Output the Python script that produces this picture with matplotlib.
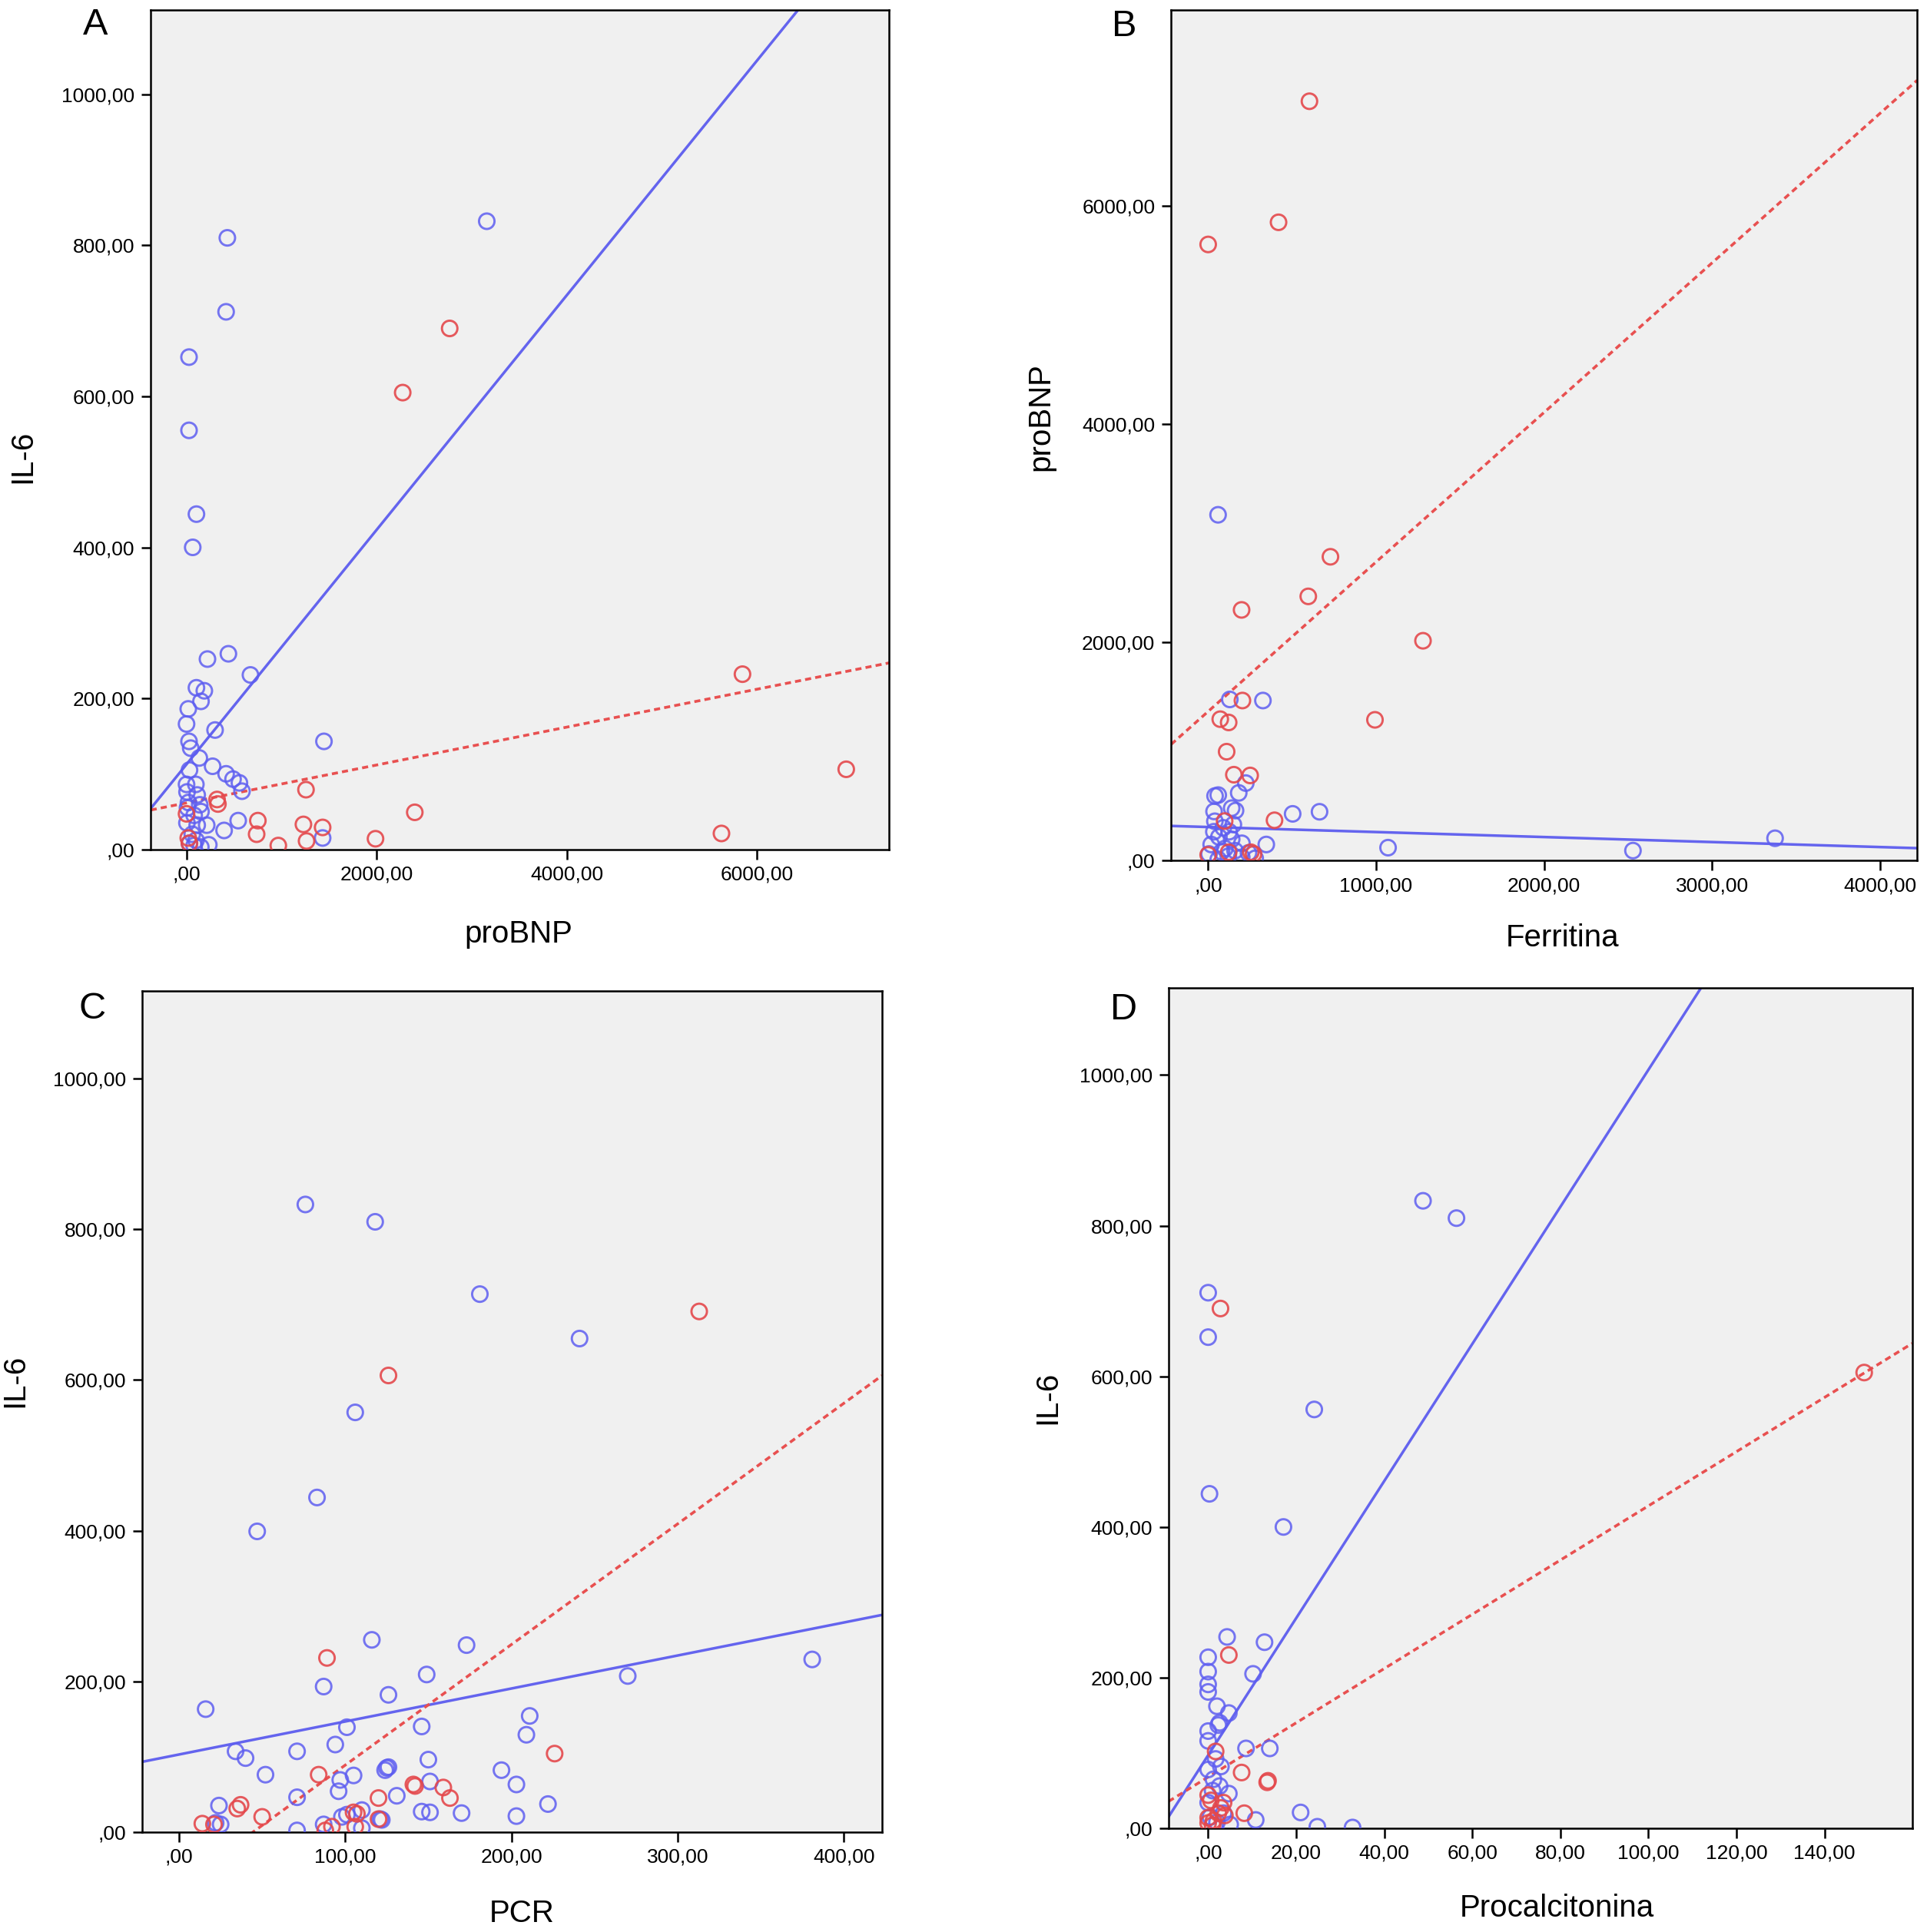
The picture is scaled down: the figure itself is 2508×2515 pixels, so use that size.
import matplotlib
matplotlib.use('Agg')
import matplotlib.pyplot as plt
import numpy as np

plt.rcParams.update({
    'font.family': ['Liberation Sans', 'DejaVu Sans'],
    'font.size': 19,
    'xtick.labelsize': 19,
    'ytick.labelsize': 19,
    'axes.labelsize': 29,
    'axes.linewidth': 1.8,
    'xtick.major.size': 9,
    'ytick.major.size': 9,
    'xtick.major.width': 1.8,
    'ytick.major.width': 1.8,
})

BLUE = '#5e5ef0'
RED = '#e4484c'
BLUE_LINE = '#6464ee'
RED_LINE = '#e85050'

# ---- panel A: proBNP vs IL-6 ----
a_blue_x = [429, 416, 26, 26, 104, 65, 3157, 440, 220, 672, 104, 187, 152, 18, 0, 300, 26, 44, 1445,
            134, 274, 31, 416, 489, 556, 583, 0, 5, 98, 112, 139, 152, 4, 112, 212, 543, 395, 1431,
            234, 31, 80, 10, 80, 60, 20, 100, 150]
a_blue_y = [810, 712, 652, 555, 444, 400, 832, 259, 252, 231, 214, 210, 196, 186, 166, 158, 143, 134, 143,
            121, 110, 105, 100, 93, 88, 77, 86, 76, 86, 72, 59, 50, 35, 32, 32, 38, 25, 15,
            6, 8, 5, 55, 45, 20, 62, 12, 3]
a_red_x = [321, 330, 0, 18, 30, 750, 737, 965, 1256, 1229, 1431, 1262, 1987, 2400, 2273, 2767, 5846, 6937, 5625]
a_red_y = [66, 60, 47, 15, 8, 38, 20, 5, 79, 33, 29, 11, 14, 49, 605, 690, 232, 106, 21]
a_blue_fit = (112.6, 0.1554)   # intercept, slope
a_red_fit = (61.5, 0.0251)

# ---- panel B: Ferritina vs proBNP ----
b_blue_x = [59, 129, 326, 224, 182, 41, 60, 163, 140, 35, 503, 663, 40, 34, 64, 125, 140, 18, 201, 346,
            1071, 5, 80, 120, 160, 200, 240, 280, 60, 100, 2529, 3375, 90, 150]
b_blue_y = [3170, 1477, 1467, 710, 620, 592, 600, 458, 480, 450, 428, 447, 360, 264, 216, 264, 194, 147, 158, 147,
            118, 60, 80, 40, 90, 30, 70, 20, 10, 110, 91, 204, 300, 330]
b_red_x = [603, 0, 419, 728, 596, 199, 1279, 993, 204, 72, 122, 110, 153, 250, 395, 98, 0, 122, 254, 270]
b_red_y = [6962, 5649, 5852, 2785, 2422, 2298, 2015, 1290, 1467, 1296, 1266, 998, 787, 780, 369, 362, 52, 76, 76, 60]
b_blue_fit = (307, -0.0459)
b_red_fit = (1367, 1.371)

# ---- panel C: PCR vs IL-6 ----
c_blue_x = [76, 118, 181, 241, 106, 83, 47, 381, 116, 173, 149, 87, 126, 16, 211, 209, 101, 146, 94, 270,
            34, 40, 71, 52, 150, 125, 124, 126, 97, 105, 96, 71, 151, 131, 194, 203, 222, 203, 170, 146,
            151, 24, 25, 22, 98, 101, 110, 121, 122, 87, 110, 71]
c_blue_y = [833, 810, 714, 655, 557, 444, 399, 229, 255, 248, 209, 193, 182, 163, 154, 129, 139, 140, 116, 207,
            107, 98, 107, 76, 96, 85, 82, 86, 69, 75, 54, 46, 67, 48, 82, 63, 37, 21, 25, 27,
            26, 35, 10, 12, 20, 23, 29, 17, 16, 10, 5, 2]
c_red_x = [89, 226, 84, 141, 142, 159, 163, 120, 35, 37, 50, 14, 21, 105, 107, 120, 92, 88, 106, 126, 313]
c_red_y = [231, 104, 76, 63, 61, 59, 45, 45, 31, 36, 20, 11, 10, 26, 24, 17, 7, 2, 7, 606, 691]
c_blue_fit = (102.8, 0.438)
c_red_fit = (-71.4, 1.601)

# ---- panel D: Procalcitonina vs IL-6 ----
d_blue_x = [48.8, 56.4, 0, 0, 24.1, 0.3, 17.1, 4.3, 12.8, 0, 0, 0, 0, 10.2, 2, 4.7, 2.6, 2.3, 0, 0,
            8.6, 14, 1.7, 2.9, 0, 1.2, 2.6, 4.7, 0, 3.5, 5, 10.8, 21, 24.8, 32.8, 1, 0.5, 2]
d_blue_y = [833, 810, 711, 652, 556, 444, 400, 254, 247, 227, 208, 191, 181, 205, 162, 153, 140, 137, 129, 116,
            106, 106, 92, 82, 78, 65, 56, 46, 34, 20, 5, 11, 21, 2, 1, 50, 15, 8]
d_red_x = [149, 2.8, 4.7, 1.7, 7.6, 13.4, 13.6, 8.2, 0, 0.6, 2.9, 3.5, 0, 1.2, 0, 2.3, 3.8, 1]
d_red_y = [605, 690, 230, 102, 74, 61, 63, 20, 44, 37, 27, 34, 14, 10, 7, 20, 17, 4]
d_blue_fit = (97, 9.1)
d_red_fit = (68, 3.6)

panels = [
    # letter, rect, xlim, ylim, xticks, yticks, xlabel, ylabel, data, label positions
    dict(letter='A', rect=[0.0782, 0.5604, 0.3833, 0.4345], xlim=(-377, 7390), ylim=(0, 1112),
         xticks=[0, 2000, 4000, 6000], yticks=[0, 200, 400, 600, 800, 1000],
         xlabel='proBNP', ylabel='IL-6',
         blue=(a_blue_x, a_blue_y), red=(a_red_x, a_red_y), bfit=a_blue_fit, rfit=a_red_fit,
         xl=(0.498, -0.101), yl=(-0.174, 0.468), lt=(-0.075, 0.982)),
    dict(letter='B', rect=[0.6077, 0.5546, 0.3872, 0.4403], xlim=(-221, 4221), ylim=(0, 7800),
         xticks=[0, 1000, 2000, 3000, 4000], yticks=[0, 2000, 4000, 6000],
         xlabel='Ferritina', ylabel='proBNP',
         blue=(b_blue_x, b_blue_y), red=(b_red_x, b_red_y), bfit=b_blue_fit, rfit=b_red_fit,
         xl=(0.525, -0.091), yl=(-0.175, 0.522), lt=(-0.063, 0.98)),
    dict(letter='C', rect=[0.0737, 0.0518, 0.3840, 0.4351], xlim=(-22.3, 423), ylim=(0, 1116),
         xticks=[0, 100, 200, 300, 400], yticks=[0, 200, 400, 600, 800, 1000],
         xlabel='PCR', ylabel='IL-6',
         blue=(c_blue_x, c_blue_y), red=(c_red_x, c_red_y), bfit=c_blue_fit, rfit=c_red_fit,
         xl=(0.513, -0.097), yl=(-0.172, 0.537), lt=(-0.067, 0.979)),
    dict(letter='D', rect=[0.6064, 0.0537, 0.3859, 0.4351], xlim=(-9, 159.9), ylim=(0, 1116),
         xticks=[0, 20, 40, 60, 80, 100, 120, 140], yticks=[0, 200, 400, 600, 800, 1000],
         xlabel='Procalcitonina', ylabel='IL-6',
         blue=(d_blue_x, d_blue_y), red=(d_red_x, d_red_y), bfit=d_blue_fit, rfit=d_red_fit,
         xl=(0.522, -0.095), yl=(-0.163, 0.512), lt=(-0.06, 0.974)),
]


def fmt(v):
    # SPSS style: comma decimal, zero shown as ",00"
    if v == 0:
        return ',00'
    return f'{v:.2f}'.replace('.', ',')


fig = plt.figure(figsize=(25.08, 25.15), dpi=100)

for p in panels:
    ax = fig.add_axes(p['rect'])
    ax.set_facecolor('#f0f0f0')
    ax.set_xlim(*p['xlim'])
    ax.set_ylim(*p['ylim'])

    # regression lines
    xs = np.array(p['xlim'])
    ax.plot(xs, p['bfit'][0] + p['bfit'][1] * xs, color=BLUE_LINE, lw=2.5, zorder=2)
    ax.plot(xs, p['rfit'][0] + p['rfit'][1] * xs, color=RED_LINE, lw=2.6,
            linestyle=(0, (2.2, 1.5)), zorder=2)

    # points
    ax.scatter(*p['blue'], s=210, facecolors='none', edgecolors=BLUE, linewidths=2.1, alpha=0.85, zorder=3)
    ax.scatter(*p['red'], s=210, facecolors='none', edgecolors=RED, linewidths=2.1, alpha=0.9, zorder=3)

    ax.set_xticks(p['xticks'])
    ax.set_yticks(p['yticks'])
    ax.set_xticklabels([fmt(v) for v in p['xticks']])
    ax.set_yticklabels([fmt(v) for v in p['yticks']])
    ax.tick_params(direction='out', pad=6)

    ax.set_xlabel(p['xlabel'])
    ax.set_ylabel(p['ylabel'])
    ax.xaxis.set_label_coords(*p['xl'])
    ax.yaxis.set_label_coords(*p['yl'])
    ax.xaxis.label.set_verticalalignment('center')
    ax.yaxis.label.set_verticalalignment('center')

    ax.text(p['lt'][0], p['lt'][1], p['letter'], transform=ax.transAxes,
            fontsize=35, ha='center', va='center')

fig.savefig('out.png', dpi=100, facecolor='white')
